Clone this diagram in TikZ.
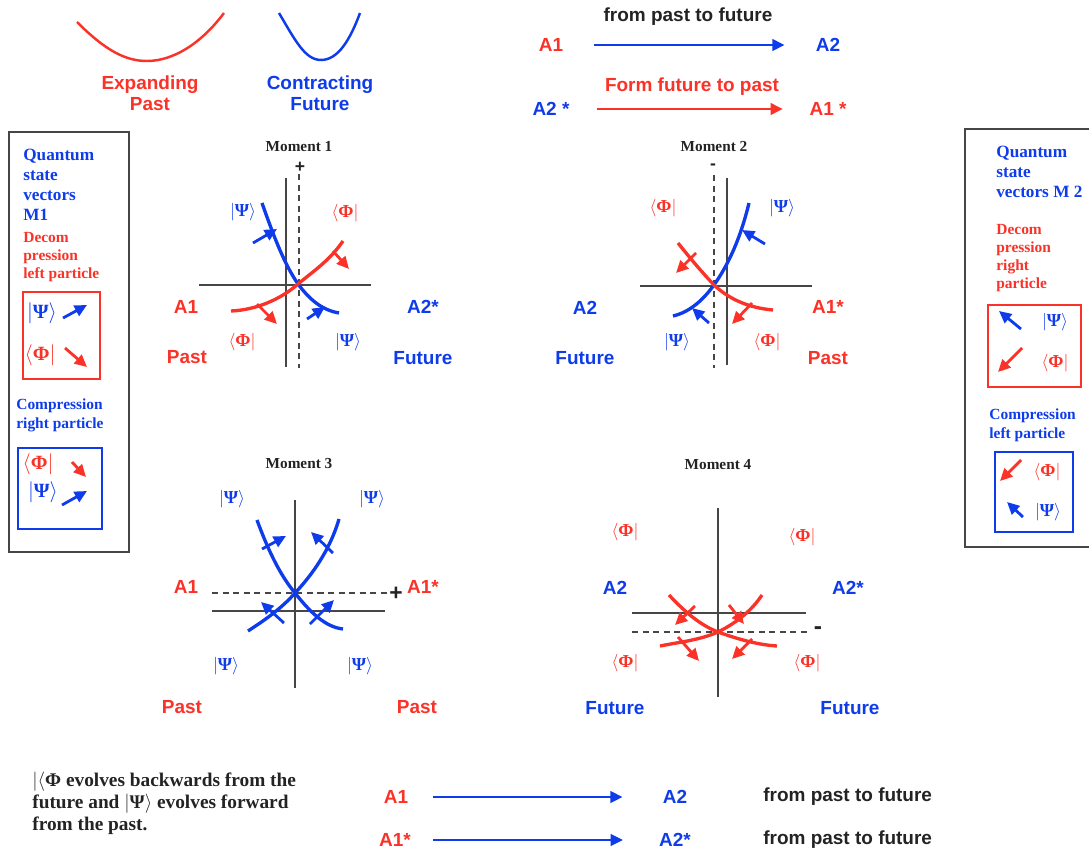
\documentclass[tikz,border=0pt]{standalone}
\usepackage{fontspec}
\setmainfont{Liberation Serif}
\setsansfont{Liberation Sans}
\usetikzlibrary{arrows.meta}
\definecolor{myred}{RGB}{250,50,40}
\definecolor{myblue}{RGB}{15,60,235}
\definecolor{axisgray}{RGB}{70,70,70}
\definecolor{txtgray}{RGB}{35,35,35}
\newcommand{\kPsi}{$|$\textbf{Ψ}$\rangle$}
\newcommand{\bPhi}{$\langle$\textbf{Φ}$|$}
\begin{document}
\begin{tikzpicture}[x=0.02cm,y=-0.02cm,
  lab/.style={font=\sffamily\bfseries\fontsize{10.8}{12.2}\selectfont,inner sep=0pt},
  qtitle/.style={font=\bfseries\fontsize{9.8}{11.3}\selectfont,inner sep=0pt,align=left},
  smalltxt/.style={font=\bfseries\fontsize{8.8}{10.2}\selectfont,inner sep=0pt,align=left},
  smalltxtb/.style={font=\bfseries\fontsize{8.8}{10.8}\selectfont,inner sep=0pt,align=left},
  mom/.style={font=\bfseries\fontsize{8.7}{10}\selectfont,text=txtgray,inner sep=0pt},
  ket/.style={font=\fontsize{10.4}{12}\selectfont,inner sep=0pt},
  ketl/.style={font=\fontsize{11.5}{13}\selectfont,inner sep=0pt},
  pm/.style={font=\sffamily\bfseries\fontsize{10}{11}\selectfont,text=txtgray,inner sep=0pt},
  curve/.style={line width=1.9pt},
  legcurve/.style={line width=1.4pt},
  axis/.style={line width=0.9pt,draw=axisgray},
  dashaxis/.style={line width=1.0pt,draw=axisgray,dash pattern=on 3.5pt off 2.5pt},
  tick/.style={line width=1.6pt,-{Triangle[length=7pt,width=6.5pt]}},
  bigarrow/.style={line width=1.6pt,-{Triangle[length=7pt,width=6.5pt]}},
  frame/.style={line width=1.3pt,draw=axisgray},
  boxline/.style={line width=1.3pt},
  bottomtxt/.style={font=\bfseries\fontsize{11}{12.5}\selectfont,inner sep=0pt,align=left,text=txtgray}
]
\useasboundingbox (0,0) rectangle (1089,852);

% ---- legend curves
\draw[legcurve,myred] (77,22) .. controls (105,50) and (125,61) .. (147,61) .. controls (172,61) and (200,45) .. (224,13);
\draw[legcurve,myblue] (279,13) .. controls (295,40) and (305,60) .. (321,60) .. controls (338,60) and (350,40) .. (360,13);
\node[lab,myred,align=center] (exp) at (150,93) {Expanding\\Past};
\node[lab,myblue,align=center] (con) at (320,93) {Contracting\\Future};

% ---- top right arrows
\node[lab,text=txtgray] (fp) at (688,17) {from past to future};
\node[lab,myred] (ta1) at (551,45) {A1};
\node[lab,myblue] (ta2) at (828,45) {A2};
\draw[bigarrow,myblue,shorten <=17.6pt,shorten >=17.6pt] (ta1) -- (ta2);
\node[lab,myred] (ff) at (692,87) {Form future to past};
\node[lab,myblue] (tb2) at (551,109) {A2 *};
\node[lab,myred] (tb1) at (828,109) {A1 *};
\draw[bigarrow,myred,shorten <=15.6pt,shorten >=15pt] (tb2) -- (tb1);

% ---- left box
\draw[frame] (9,132) rectangle (129,552);
\node[qtitle,myblue,anchor=north west] (lq) at (23,149) {Quantum\\state\\vectors\\M1};
\node[smalltxt,myred,anchor=north west] (ld) at (23,232) {Decom\\pression\\left particle};
\draw[boxline,myred] (23,292) rectangle (100,379);
\node[ketl,myblue] (lk1) at (42,313) {\kPsi};
\draw[tick,myblue] (63,318) -- (87,305);
\node[ketl,myred] (lb1) at (40,355) {\bPhi};
\draw[tick,myred] (65,348) -- (87,367);
\node[smalltxtb,myblue,anchor=north west] (lc) at (16,398) {Compression\\right particle};
\draw[boxline,myblue] (18,448) rectangle (102,529);
\node[ketl,myred] (lb2) at (38,464) {\bPhi};
\draw[tick,myred] (72,462) -- (86,477);
\node[ketl,myblue] (lk2) at (43,492) {\kPsi};
\draw[tick,myblue] (62,505) -- (87,491);

% ---- right box
\draw[frame] (965,129) rectangle (1095,547);
\node[qtitle,myblue,anchor=north west] (rq) at (996,146) {Quantum\\state\\vectors M 2};
\node[smalltxt,myred,anchor=north west] (rd) at (996,224) {Decom\\pression\\right\\particle};
\draw[boxline,myred] (988,305) rectangle (1081,387);
\draw[tick,myblue] (1021,329) -- (999,311);
\node[ket,myblue] (rk1) at (1055,322) {\kPsi};
\draw[tick,myred] (1022,348) -- (998,372);
\node[ket,myred] (rb1) at (1055,363) {\bPhi};
\node[smalltxtb,myblue,anchor=north west] (rc) at (989,408) {Compression\\left particle};
\draw[boxline,myblue] (995,452) rectangle (1073,532);
\draw[tick,myred] (1021,460) -- (1000,481);
\node[ket,myred] (rb2) at (1047,472) {\bPhi};
\draw[tick,myblue] (1023,517) -- (1007,502);
\node[ket,myblue] (rk2) at (1048,512) {\kPsi};

% ---- Moment 1
\node[mom] (m1) at (299,147) {Moment 1};
\node[pm] (m1p) at (300,167) {+};
\draw[axis] (286,178) -- (286,367);
\draw[axis] (199,285) -- (371,285);
\draw[dashaxis] (299,174) -- (299,368);
\draw[curve,myblue] (262,203) .. controls (275,240) and (285,265) .. (298,284) .. controls (310,300) and (322,310) .. (339,313);
\draw[curve,myred] (231,311) .. controls (255,310) and (280,300) .. (298,284) .. controls (315,270) and (330,260) .. (343,241);
\draw[tick,myblue] (253,243) -- (277,229);
\draw[tick,myblue] (307,319) -- (325,307);
\draw[tick,myred] (333,251) -- (349,269);
\draw[tick,myred] (257,304) -- (277,324);
\node[ket,myblue] at (243,212) {\kPsi};
\node[ket,myred] at (345,213) {\bPhi};
\node[ket,myred] at (242,342) {\bPhi};
\node[ket,myblue] at (348,342) {\kPsi};
\node[lab,myred] (m1a) at (186,307) {A1};
\node[lab,myblue] (m1b) at (423,307) {A2*};
\node[lab,myred] (m1c) at (187,357) {Past};
\node[lab,myblue] (m1d) at (423,358) {Future};

% ---- Moment 2
\node[mom] (m2) at (714,147) {Moment 2};
\node[pm] (m2m) at (713,167) {-};
\draw[axis] (727,178) -- (727,365);
\draw[axis] (640,286) -- (812,286);
\draw[dashaxis] (714,175) -- (714,368);
\draw[curve,myblue] (673,316) .. controls (690,312) and (703,300) .. (714,285) .. controls (728,265) and (740,240) .. (749,203);
\draw[curve,myred] (678,243) .. controls (690,258) and (700,270) .. (714,285) .. controls (730,300) and (750,308) .. (773,310);
\draw[tick,myblue] (765,244) -- (742,230);
\draw[tick,myblue] (709,323) -- (692,308);
\draw[tick,myred] (696,253) -- (676,273);
\draw[tick,myred] (752,303) -- (732,324);
\node[ket,myred] at (663,208) {\bPhi};
\node[ket,myblue] at (782,208) {\kPsi};
\node[ket,myblue] at (677,342) {\kPsi};
\node[ket,myred] at (767,342) {\bPhi};
\node[lab,myblue] (m2a) at (585,308) {A2};
\node[lab,myred] (m2b) at (828,307) {A1*};
\node[lab,myblue] (m2c) at (585,358) {Future};
\node[lab,myred] (m2d) at (828,358) {Past};

% ---- Moment 3
\node[mom] (m3) at (299,464) {Moment 3};
\draw[axis] (295,500) -- (295,688);
\draw[axis] (212,611) -- (385,611);
\draw[dashaxis] (212,593) -- (390,593);
\node[pm,font=\sffamily\bfseries\fontsize{13}{14}\selectfont] (m3p) at (396,594) {+};
\draw[curve,myblue] (257,520) .. controls (268,550) and (280,575) .. (295,593) .. controls (310,612) and (325,627) .. (343,629);
\draw[curve,myblue] (248,631) .. controls (265,620) and (282,608) .. (295,593) .. controls (312,575) and (330,550) .. (339,519);
\draw[tick,myblue] (262,549) -- (286,536);
\draw[tick,myblue] (333,553) -- (311,532);
\draw[tick,myblue] (284,623) -- (261,602);
\draw[tick,myblue] (310,624) -- (334,600);
\node[ket,myblue] at (232,499) {\kPsi};
\node[ket,myblue] at (372,499) {\kPsi};
\node[ket,myblue] at (226,666) {\kPsi};
\node[ket,myblue] at (360,666) {\kPsi};
\node[lab,myred] (m3a) at (186,587) {A1};
\node[lab,myred] (m3b) at (423,587) {A1*};
\node[lab,myred] (m3c) at (182,707) {Past};
\node[lab,myred] (m3d) at (417,707) {Past};

% ---- Moment 4
\node[mom] (m4) at (718,465) {Moment 4};
\draw[axis] (718,508) -- (718,697);
\draw[axis] (632,613) -- (806,613);
\draw[dashaxis] (632,632) -- (810,632);
\node[pm,font=\sffamily\bfseries\fontsize{14}{14}\selectfont] (m4m) at (818,631) {-};
\draw[curve,myred] (669,595) .. controls (685,612) and (700,625) .. (718,632) .. controls (740,640) and (760,645) .. (777,646);
\draw[curve,myred] (660,646) .. controls (680,642) and (700,640) .. (718,632) .. controls (738,622) and (752,610) .. (762,595);
\draw[tick,myred] (695,606) -- (675,625);
\draw[tick,myred] (729,605) -- (744,624);
\draw[tick,myred] (678,637) -- (699,661);
\draw[tick,myred] (752,639) -- (732,659);
\node[ket,myred] at (625,532) {\bPhi};
\node[ket,myred] at (802,537) {\bPhi};
\node[ket,myred] at (625,663) {\bPhi};
\node[ket,myred] at (807,663) {\bPhi};
\node[lab,myblue] (m4a) at (615,588) {A2};
\node[lab,myblue] (m4b) at (848,588) {A2*};
\node[lab,myblue] (m4c) at (615,708) {Future};
\node[lab,myblue] (m4d) at (850,708) {Future};

% ---- bottom
\node[bottomtxt,anchor=north west] (note) at (32,772) {$|\langle$Φ evolves backwards from the\\future and $|$Ψ$\rangle$ evolves forward\\from the past.};
\node[lab,myred] (ba1) at (396,797) {A1};
\node[lab,myblue] (ba2) at (675,797) {A2};
\draw[bigarrow,myblue,shorten <=14.2pt,shorten >=22.7pt] (ba1) -- (ba2);
\node[lab,text=txtgray,anchor=west] (bt1) at (763,797) {from past to future};
\node[lab,myred] (bb1) at (395,840) {A1*};
\node[lab,myblue] (bb2) at (675,840) {A2*};
\draw[bigarrow,myblue,shorten <=12.5pt,shorten >=20.4pt] (bb1) -- (bb2);
\node[lab,text=txtgray,anchor=west] (bt2) at (763,840) {from past to future};
\end{tikzpicture}
\end{document}
